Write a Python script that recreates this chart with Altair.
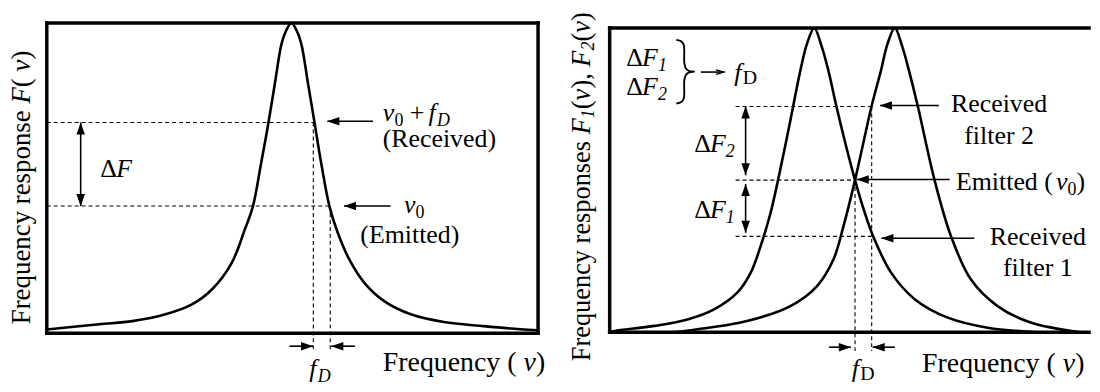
import altair as alt
import pandas as pd

FONT = "Liberation Serif"

# ---------------- values ----------------
# Left panel: one filter response F(nu) (frequency in arbitrary units, response 0-1)
L_NU = [0, 10.67, 17.41, 24.15, 29.55, 33.6, 37.65, 40.28, 41.94, 43.62, 45.08, 46.42, 47.77, 48.68, 49.8,
        50.91, 51.82, 53.18, 54.51, 55.87, 57.55, 59.25, 61.6, 64.64, 68.68, 74.09, 80.83, 88.93, 96.36, 100]
L_F = [0.012, 0.029, 0.039, 0.061, 0.093, 0.141, 0.227, 0.333, 0.408, 0.547, 0.675, 0.804, 0.932, 0.974, 1.0,
       0.974, 0.932, 0.804, 0.678, 0.547, 0.408, 0.323, 0.237, 0.1625, 0.1035, 0.061, 0.036, 0.023, 0.013, 0.0096]

# Right panel: two filter responses F1(nu), F2(nu)
R_NU1 = [0, 1.03, 9.24, 16.08, 21.56, 26.34, 29.1, 31.15, 33.2, 34.91, 37.31, 39.36, 40.72, 42.24,
         43.74, 45.17, 46.82, 48.87, 50.66, 52.36, 54.41, 58.11, 63.04, 69.82, 78.03, 88.3]
R_F1 = [0, 0.004, 0.021, 0.042, 0.075, 0.130, 0.195, 0.282, 0.391, 0.511, 0.696, 0.859, 0.947, 1.0,
        0.941, 0.859, 0.742, 0.608, 0.5, 0.408, 0.315, 0.196, 0.108, 0.048, 0.015, 0.0]
R_NU2 = [0, 12.73, 18.13, 28.4, 37.31, 42.77, 46.2, 48.25, 50.66, 52.36, 54.11, 56.0, 57.35, 58.87,
         60.37, 61.81, 63.66, 67.08, 70.49, 74.6, 80.08, 86.92, 97.13]
R_F2 = [0, 0, 0.0098, 0.037, 0.086, 0.151, 0.239, 0.347, 0.5, 0.621, 0.745, 0.859, 0.947, 1.0,
        0.941, 0.859, 0.74, 0.5, 0.315, 0.173, 0.086, 0.032, 0.0]

# reference levels (dashed guides): left = received / emitted, right = filter2 / emitted / filter1
L_LEVEL = [0.679, 0.41]
L_LEVEL_NU = [54.25, 57.7]
R_LEVEL = [0.742, 0.5, 0.315]
R_LEVEL_NU = [54.1, 50.66, 54.1]
R_VLINE_NU = [50.66, 54.1]
R_VLINE_TOP = [0.5, 0.742]

# ---------------- layout ----------------
H = 312
WL, WR = 494, 482
PXL = WL / 100
PXR = 4.87
XDOM_L = [0, 100]
XDOM_R = [0, WR / PXR]
YDOM_L = [0, 1]
YDOM_R = [-1 / 306, 1 + 5 / 306]
PYL = H / (YDOM_L[1] - YDOM_L[0])
PYR = H / (YDOM_R[1] - YDOM_R[0])
GUIDE_BOTTOM_L, GUIDE_BOTTOM_R = -0.051, -0.062

# horizontal arrows: tail x, tip x, y
L_ARR = dict(tail=[66.4, 70.0, 49.4, 62.75], tip=[57.1, 60.5, 54.2, 57.9], y=[0.683, 0.41, -0.0417, -0.0417])
R_ARR = dict(tail=[67.97, 70.2, 75.3, 45.3, 58.9], tip=[55.8, 51.0, 56.1, 49.8, 54.3],
             y=[0.745, 0.502, 0.309, -0.049, -0.049])
# double-headed vertical arrows: x, top, bottom
L_DARR = dict(x=[6.9], top=[0.679], bot=[0.41])
R_DARR = dict(x=[28.07, 28.07], top=[0.742, 0.487], bot=[0.516, 0.327])

# curly brace "}" beside dF1/dF2 (pixel offsets in the right panel, converted to data units)
BRACE_PX = [(677, 39), (682, 40.5), (684.5, 44), (685, 50), (685, 62), (686.5, 67.5), (690, 70.3), (695, 71),
            (690, 71.7), (686.5, 74.5), (685, 80), (685, 92), (684.5, 98), (682, 101.5), (677, 103)]
BRACE = [dict(i=i, x=(px - 610) / PXR, y=(333 - py) / 306) for i, (px, py) in enumerate(BRACE_PX)]
SMALL_ARROW = dict(x=18.83, x2=23.6, y=0.855)

NORMAL = {' ': .25, '(': .333, ')': .333, ',': .25, '+': .564, '0': .5, '1': .5, '2': .5, 'D': .722,
          'E': .611, 'F': .556, 'R': .667, 'c': .444, 'd': .5, 'e': .444, 'f': .333, 'i': .278,
          'l': .278, 'm': .778, 'n': .5, 'o': .5, 'p': .5, 'q': .5, 'r': .333, 's': .389, 't': .278,
          'u': .5, 'v': .5, 'y': .5, 'Δ': .612}
ITALIC = {' ': .25, 'F': .611, 'f': .33, 'D': .722, 'ν': .45, '1': .5, '2': .5}


def tw(t, it):
    table = ITALIC if it else NORMAL
    return sum(table.get(c, 0.5) for c in t)


def runs(ax, ay, parts, px, py, vertical=False):
    """parts: (text, italic, size, drop_px[, extra_gap_px]) laid out one after another."""
    rows, pos = [], 0.0
    for part in parts:
        t, it, sz, drop = part[:4]
        gap = part[4] if len(part) > 4 else 0.0
        pos += gap
        lead = (len(t) - len(t.lstrip(' '))) * 0.25 * sz
        p = pos + lead
        if vertical:
            rows.append(dict(x=ax + drop / px, y=ay + p / py, text=t.strip(), size=sz, it=it, rot=270))
        else:
            rows.append(dict(x=ax + p / px, y=ay - drop / py, text=t.strip(), size=sz, it=it, rot=0))
        pos += tw(t, it) * sz
    return rows


def dF(sub):
    return [("Δ", 0, 26, 0), ("F", 1, 26, 0)] + ([(sub, 1, 18, 5)] if sub else [])


XT = 28   # x-title size
YT_L, YT_R = 27, 26.5

L_TEXT = (runs(10.9, 0.503, dF(None), PXL, PYL)
          + runs(68.4, 0.683, [("ν", 1, 26, 0), ("0", 0, 18, 5), (" +", 0, 26, 0), ("f", 1, 26, 0, 4),
                               ("D", 1, 18, 5)], PXL, PYL)
          + runs(72.7, 0.388, [("ν", 1, 26, 0), ("0", 0, 18, 5)], PXL, PYL)
          + runs(53.4, -0.141, [("f", 1, 26, 0), ("D", 1, 18, 5)], PXL, PYL)
          + runs(68.4, -0.122, [("Frequency (", 0, XT, 0), (" ν", 1, XT, 0), (")", 0, XT, 0)], PXL, PYL)
          + runs(-3.44, 0.029, [("Frequency response", 0, YT_L, 0), (" F", 1, YT_L, 0), ("(", 0, YT_L, 0),
                                (" ν", 1, YT_L, 0), (")", 0, YT_L, 0)], PXL, PYL, vertical=True))
L_CENTER = [dict(x=79.9, y=0.599, text="(Received)", size=26),
            dict(x=73.9, y=0.292, text="(Emitted)", size=26)]

R_TEXT = (runs(3.43, 0.876, dF("1"), PXR, PYR)
          + runs(3.43, 0.778, dF("2"), PXR, PYR)
          + runs(25.7, 0.827, [("f", 1, 26, 0), ("D", 0, 20, 3)], PXR, PYR)
          + runs(17.45, 0.592, dF("2"), PXR, PYR)
          + runs(17.45, 0.374, dF("1"), PXR, PYR)
          + runs(71.5, 0.467, [("Emitted (", 0, 26, 0), ("ν", 1, 26, 0, 3), ("0", 0, 18, 5), (")", 0, 26, 0)],
                 PXR, PYR)
          + runs(50.0, -0.147, [("f", 1, 26, 0), ("D", 0, 20, 3)], PXR, PYR)
          + runs(64.5, -0.131, [("Frequency (", 0, XT, 0), (" ν", 1, XT, 0), (")", 0, XT, 0)], PXR, PYR)
          + runs(-4.1, -0.095, [("Frequency responses", 0, YT_R, 0), (" F", 1, YT_R, 0), ("1", 1, 18, 4),
                                ("(", 0, YT_R, 0), ("ν", 1, YT_R, 0), ("),", 0, YT_R, 0), (" F", 1, YT_R, 0),
                                ("2", 1, 18, 4), ("(", 0, YT_R, 0), ("ν", 1, YT_R, 0), (")", 0, YT_R, 0)],
                 PXR, PYR, vertical=True))
R_CENTER = [dict(x=80.4, y=0.723, text="Received", size=26),
            dict(x=80.4, y=0.62, text="filter 2", size=26),
            dict(x=88.4, y=0.288, text="Received", size=26),
            dict(x=88.4, y=0.184, text="filter 1", size=26)]

HEAD = {"left": ("M-1,0L1,-0.7L1,0.7Z", 6, 0), "right": ("M1,0L-1,-0.7L-1,0.7Z", -6, 0),
        "up": ("M0,-1L-0.7,1L0.7,1Z", 0, 6), "down": ("M0,1L-0.7,-1L0.7,-1Z", 0, -6)}


def panel(width, xdom, ydom, curves, frame, hd, vd, arr, darr, text_rows, center_rows, extras=False):
    xs = alt.Scale(domain=xdom, nice=False, zero=False)
    ys = alt.Scale(domain=ydom, nice=False, zero=False)
    X = alt.X("x:Q", scale=xs, axis=None)
    Y = alt.Y("y:Q", scale=ys, axis=None)
    layers = []
    # frame
    layers.append(alt.Chart(pd.DataFrame(frame)).mark_rule(color="black", strokeWidth=3.5, strokeCap="square")
                  .encode(x=X, x2="x2:Q", y=Y, y2="y2:Q"))
    # dashed guides
    layers.append(alt.Chart(pd.DataFrame(hd + vd)).mark_rule(color="black", strokeWidth=1.1, strokeDash=[4, 3])
                  .encode(x=X, x2="x2:Q", y=Y, y2="y2:Q"))
    # curves
    layers.append(alt.Chart(pd.DataFrame(curves)).mark_line(color="black", strokeWidth=2.6, interpolate="catmull-rom")
                  .encode(x=X, y=Y, detail="s:N", order="i:Q"))
    # arrow shafts
    shafts = [dict(x=t, x2=p, y=y, y2=y) for t, p, y in zip(arr["tail"], arr["tip"], arr["y"])]
    shafts += [dict(x=x, x2=x, y=a, y2=b) for x, a, b in zip(darr["x"], darr["top"], darr["bot"])]
    if extras:
        shafts.append(dict(x=SMALL_ARROW["x"], x2=SMALL_ARROW["x2"], y=SMALL_ARROW["y"], y2=SMALL_ARROW["y"]))
    sh = pd.DataFrame(shafts)
    layers.append(alt.Chart(sh).mark_rule(color="black", strokeWidth=1.6)
                  .encode(x=X, x2="x2:Q", y=Y, y2="y2:Q"))
    heads = {"left": [], "right": [], "up": [], "down": []}
    for t, p, y in zip(arr["tail"], arr["tip"], arr["y"]):
        heads["left" if p < t else "right"].append(dict(x=p, y=y))
    for x, a, b in zip(darr["x"], darr["top"], darr["bot"]):
        heads["up"].append(dict(x=x, y=a))
        heads["down"].append(dict(x=x, y=b))
    for k, rows in heads.items():
        if not rows:
            continue
        shape, xo, yo = HEAD[k]
        layers.append(alt.Chart(pd.DataFrame(rows)).mark_point(shape=shape, filled=True, size=150, color="black",
                                                                 opacity=1, strokeWidth=0, xOffset=xo, yOffset=yo)
                      .encode(x=X, y=Y))
    if extras:
        # brace and the thin open arrow head after it
        layers.append(alt.Chart(pd.DataFrame(BRACE)).mark_line(color="black", strokeWidth=1.9,
                                                                 interpolate="catmull-rom")
                      .encode(x=X, y=Y, order="i:Q"))
        layers.append(alt.Chart(pd.DataFrame([dict(x=SMALL_ARROW["x2"], y=SMALL_ARROW["y"])]))
                      .mark_point(shape="M-1,-0.55L1,0L-1,0.55", filled=False, size=64, color="black",
                                  opacity=1, strokeWidth=1.3, xOffset=-4)
                      .encode(x=X, y=Y))
    # texts
    tdf = pd.DataFrame(text_rows)
    for it in (0, 1):
        for rot in (0, 270):
            sub = tdf[(tdf.it == it) & (tdf.rot == rot)]
            if len(sub) == 0:
                continue
            layers.append(alt.Chart(sub).mark_text(font=FONT, fontStyle="italic" if it else "normal",
                                                   align="left", baseline="alphabetic", angle=rot, color="black")
                          .encode(x=X, y=Y, text="text:N", size=alt.Size("size:Q", scale=None)))
    layers.append(alt.Chart(pd.DataFrame(center_rows)).mark_text(font=FONT, align="center", baseline="alphabetic",
                                                                  color="black")
                  .encode(x=X, y=Y, text="text:N", size=alt.Size("size:Q", scale=None)))
    return alt.layer(*layers).properties(width=width, height=H)


left_curves = [dict(s="F", i=i, x=x, y=y) for i, (x, y) in enumerate(zip(L_NU, L_F))]
right_curves = ([dict(s="F1", i=i, x=x, y=y) for i, (x, y) in enumerate(zip(R_NU1, R_F1))]
                + [dict(s="F2", i=i, x=x, y=y) for i, (x, y) in enumerate(zip(R_NU2, R_F2))])

XR_END = XDOM_R[1]
left_frame = [dict(x=0, x2=100, y=1, y2=1), dict(x=0, x2=100, y=0, y2=0),
              dict(x=0, x2=0, y=0, y2=1), dict(x=100, x2=100, y=0, y2=1)]
right_frame = [dict(x=0, x2=XR_END, y=1, y2=1), dict(x=0, x2=XR_END, y=0, y2=0), dict(x=0, x2=0, y=0, y2=1)]

left_hd = [dict(x=0, x2=n, y=l, y2=l) for l, n in zip(L_LEVEL, L_LEVEL_NU)]
left_vd = [dict(x=n, x2=n, y=l, y2=GUIDE_BOTTOM_L) for l, n in zip(L_LEVEL, L_LEVEL_NU)]
right_hd = [dict(x=26.0, x2=n, y=l, y2=l) for l, n in zip(R_LEVEL, R_LEVEL_NU)]
right_vd = [dict(x=n, x2=n, y=t, y2=GUIDE_BOTTOM_R) for n, t in zip(R_VLINE_NU, R_VLINE_TOP)]

left = panel(WL, XDOM_L, YDOM_L, left_curves, left_frame, left_hd, left_vd, L_ARR, L_DARR, L_TEXT, L_CENTER)
right = panel(WR, XDOM_R, YDOM_R, right_curves, right_frame, right_hd, right_vd, R_ARR, R_DARR, R_TEXT, R_CENTER,
              extras=True)

chart = (alt.hconcat(left, right, spacing=72, bounds="flush")
         .properties(padding={"left": 0, "top": 3, "right": 0, "bottom": 0})
         .configure_view(stroke=None))

chart.save("out.html", embed_options={"renderer": "svg", "actions": False})
